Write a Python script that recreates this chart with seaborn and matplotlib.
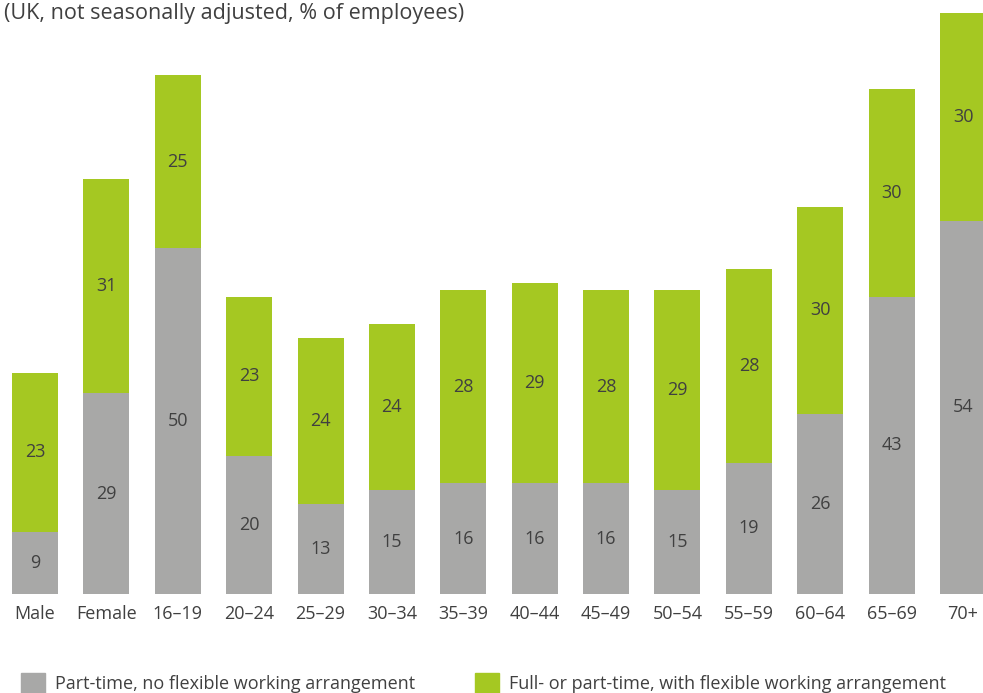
import pandas as pd
import seaborn as sns
import matplotlib.pyplot as plt
from matplotlib.patches import Patch

groups = ["Male", "Female", "16\u201319", "20\u201324", "25\u201329", "30\u201334", "35\u201339",
          "40\u201344", "45\u201349", "50\u201354", "55\u201359", "60\u201364", "65\u201369", "70+"]
no_flex = [9, 29, 50, 20, 13, 15, 16, 16, 16, 15, 19, 26, 43, 54]
flex = [23, 31, 25, 23, 24, 24, 28, 29, 28, 29, 28, 30, 30, 30]

grey = "#a8a8a7"
green = "#a5c822"
txt = "#404040"

sns.set_style("white")
plt.rcParams["font.family"] = ["Open Sans", "DejaVu Sans"]

df = pd.DataFrame({"group": groups, "no_flex": no_flex, "flex": flex})
df["total"] = df["no_flex"] + df["flex"]

fig = plt.figure(figsize=(9.83, 6.93), dpi=100)
ax = fig.add_axes([0, 1 - 594 / 693, 1, (594 - 13) / 693])

sns.barplot(data=df, x="group", y="total", color=green, width=0.645, saturation=1,
            linewidth=0, ax=ax)
sns.barplot(data=df, x="group", y="no_flex", color=grey, width=0.645, saturation=1,
            linewidth=0, ax=ax)

for i, row in df.iterrows():
    ax.text(i, row["no_flex"] / 2, str(row["no_flex"]), ha="center", va="center",
            fontsize=13, color=txt)
    ax.text(i, row["no_flex"] + row["flex"] / 2, str(row["flex"]), ha="center", va="center",
            fontsize=13, color=txt)

ax.set_xlim(-0.49, 13.28)
ax.set_ylim(0, 84)
ax.set_xlabel("")
ax.set_ylabel("")
ax.set_yticks([])
ax.tick_params(axis="x", length=0, labelsize=13, labelcolor=txt, pad=8)
sns.despine(ax=ax, left=True, bottom=True)

fig.text(0.004, 0.996, "(UK, not seasonally adjusted, % of employees)", ha="left", va="top",
         fontsize=15.5, color=txt)

handles = [Patch(color=grey, label="Part-time, no flexible working arrangement"),
           Patch(color=green, label="Full- or part-time, with flexible working arrangement")]
fig.legend(handles=handles, loc="lower left", bbox_to_anchor=(0.005, -0.024), ncol=2,
           frameon=False, fontsize=13, handlelength=1.3, handleheight=1.3,
           handletextpad=0.6, columnspacing=3.3, labelcolor=txt)

fig.savefig("out.png", dpi=100)
